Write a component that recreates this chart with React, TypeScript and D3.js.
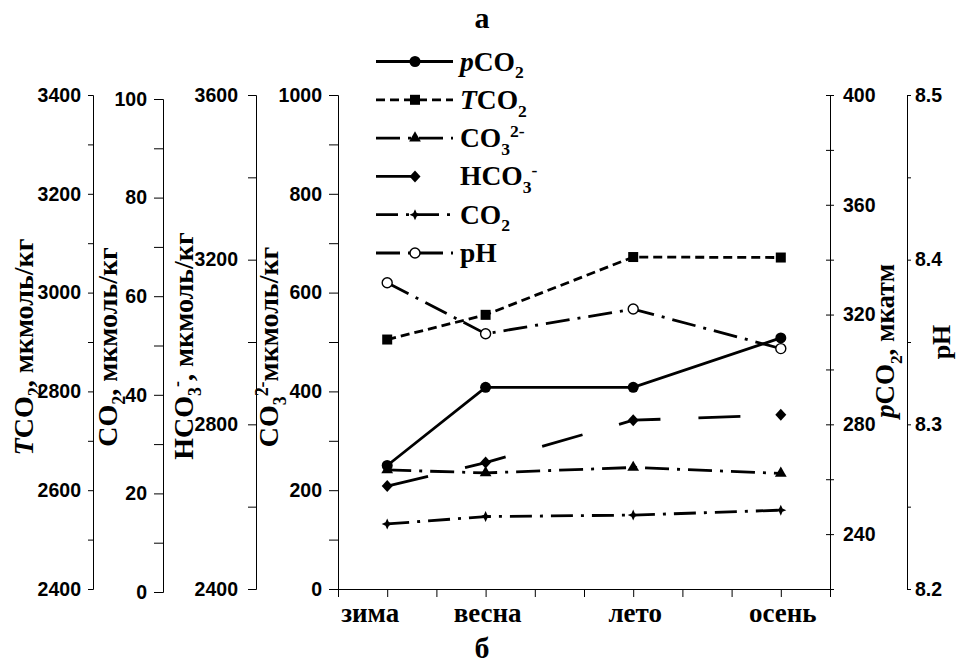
import { useEffect, useRef } from 'react'
import * as d3 from 'd3'

// seasons and their position on the (hidden) numeric x scale
const seasons = ['зима', 'весна', 'лето', 'осень']
const seasonPos = [1, 3, 6, 9]

// series values
const pCO2 = [265, 293.5, 293.5, 311.5]
const tCO2 = [2905, 2955, 3072, 3071]
const co3 = [241, 235, 246, 234]
const hco3 = [2650, 2707, 2810, 2823]
const co2 = [13.8, 15.3, 15.6, 16.6]
const pH = [8.386, 8.355, 8.37, 8.346]

// labelled ticks of every axis
const tco2Labels = [2400, 2600, 2800, 3000, 3200, 3400]
const co2Labels = [0, 20, 40, 60, 80, 100]
const hco3Labels = [2400, 2800, 3200, 3600]
const co3Labels = [0, 200, 400, 600, 800, 1000]
const pco2Labels = [240, 280, 320, 360, 400]
const phLabels = [8.2, 8.3, 8.4, 8.5]

const W = 961
const H = 666
const SERIF = "'Liberation Serif', 'Times New Roman', serif"
const SANS = "'Liberation Sans', Arial, sans-serif"

type Part = { t: string; it?: boolean; sub?: boolean; sup?: boolean }

// appends tspans for chemical formulas (italic, sub and superscripts)
function rich(text: any, parts: Part[], size: number) {
  let shift = 0
  for (const p of parts) {
    const small = p.sub || p.sup
    const target = p.sub ? size * 0.28 : p.sup ? -size * 0.36 : 0
    text
      .append('tspan')
      .attr('dy', target - shift)
      .attr('font-size', small ? size * 0.64 : size)
      .attr('font-style', p.it ? 'italic' : 'normal')
      .text(p.t)
    shift = target
  }
}

function ChemChart() {
  const svgRef = useRef<SVGSVGElement>(null)

  useEffect(() => {
    if (!svgRef.current) return
    const svg = d3.select(svgRef.current)
    svg.selectAll('*').remove()

    const x = d3.scaleLinear().domain([0, 10]).range([338, 830])
    const yT = d3.scaleLinear().domain([2400, 3400]).range([589, 95])
    const yCO2 = d3.scaleLinear().domain([0, 100]).range([592, 99])
    const yHCO3 = d3.scaleLinear().domain([2400, 3600]).range([589, 95])
    const yCO3 = d3.scaleLinear().domain([0, 1000]).range([589, 95])
    const yP = d3.scaleLinear().domain([220, 400]).range([589, 95])
    const yPH = d3.scaleLinear().domain([8.2, 8.5]).range([589, 95])

    const axes = [
      { scale: yT, at: 93, side: 'left', step: 100, labels: tco2Labels, size: 5, pad: 7, fmt: d3.format('d') },
      { scale: yCO2, at: 163, side: 'left', step: 10, labels: co2Labels, size: 9, pad: 7, fmt: d3.format('d') },
      { scale: yHCO3, at: 256, side: 'left', step: 200, labels: hco3Labels, size: 8, pad: 10, fmt: d3.format('d') },
      { scale: yCO3, at: 338, side: 'left', step: 100, labels: co3Labels, size: 9, pad: 7, fmt: d3.format('d') },
      { scale: yP, at: 830, side: 'right', step: 20, labels: pco2Labels, size: 4, pad: 9, fmt: d3.format('d') },
      { scale: yPH, at: 907, side: 'right', step: 0.05, labels: phLabels, size: 4, pad: 4, fmt: d3.format('.1f') },
    ]

    axes.forEach((a) => {
      const [d0, d1] = a.scale.domain()
      const vals = d3.range(d0, d1 + a.step / 2, a.step)
      const gen = (a.side === 'left' ? d3.axisLeft(a.scale) : d3.axisRight(a.scale))
        .tickValues(vals)
        .tickSizeOuter(0)
        .tickSize(a.size)
        .tickPadding(a.pad)
        .tickFormat((v: any) => (a.labels.some((l) => Math.abs(l - v) < 1e-6) ? a.fmt(v) : ''))
      const g = svg.append('g').attr('transform', `translate(${a.at},0)`).call(gen as any)
      g.select('.domain').attr('stroke', '#000')
      g.selectAll('.tick line').attr('stroke', '#000')
      g.selectAll('text')
        .attr('font-family', SANS)
        .attr('font-size', 19.5)
        .attr('font-weight', 'bold')
        .attr('fill', '#000')
      if (a.scale === yP) g.selectAll('.tick line').attr('x1', -4).attr('x2', 4)
    })

    // x axis
    const xg = svg
      .append('g')
      .attr('transform', `translate(0,589)`)
      .call(d3.axisBottom(x).tickValues(d3.range(0, 11)).tickSize(8).tickSizeOuter(0).tickFormat(() => '') as any)
    xg.select('.domain').attr('stroke', '#000')
    xg.selectAll('.tick line').attr('stroke', '#000')

    svg
      .append('g')
      .selectAll('text')
      .data(seasons)
      .enter()
      .append('text')
      .attr('x', (d, i) => x(seasonPos[i]) + (i === 0 ? -17 : 2))
      .attr('y', 622)
      .attr('text-anchor', 'middle')
      .attr('font-family', SERIF)
      .attr('font-weight', 'bold')
      .attr('font-size', 27)
      .text((d) => d)

    const series = [
      { key: 'pco2', values: pCO2, scale: yP, dash: null, marker: 'circle',
        label: [{ t: 'p', it: true }, { t: 'CO' }, { t: '2', sub: true }] },
      { key: 'tco2', values: tCO2, scale: yT, dash: '9 5', marker: 'square',
        label: [{ t: 'T', it: true }, { t: 'CO' }, { t: '2', sub: true }] },
      { key: 'co3', values: co3, scale: yCO3, dash: '24 8 3 8', marker: 'triangle',
        label: [{ t: 'CO' }, { t: '3', sub: true }, { t: '2-', sup: true }] },
      { key: 'hco3', values: hco3, scale: yHCO3, dash: '42 38', marker: 'diamond',
        label: [{ t: 'HCO' }, { t: '3', sub: true }, { t: '-', sup: true }] },
      { key: 'co2', values: co2, scale: yCO2, dash: '22 8 3 8', marker: 'star',
        label: [{ t: 'CO' }, { t: '2', sub: true }] },
      { key: 'ph', values: pH, scale: yPH, dash: '24 8 3 8', marker: 'open',
        label: [{ t: 'pH' }] },
    ]

    const star = 'M0,-5.5L1.7,-1.7L5.5,0L1.7,1.7L0,5.5L-1.7,1.7L-5.5,0L-1.7,-1.7Z'
    const diamond = 'M0,-6L5.5,0L0,6L-5.5,0Z'
    const drawMarker = (g: any, type: string, cx: number, cy: number) => {
      if (type === 'circle') g.append('circle').attr('cx', cx).attr('cy', cy).attr('r', 5.5).attr('fill', '#000')
      else if (type === 'open')
        g.append('circle').attr('cx', cx).attr('cy', cy).attr('r', 5).attr('fill', '#fff').attr('stroke', '#000').attr('stroke-width', 1.4)
      else if (type === 'square') g.append('rect').attr('x', cx - 5).attr('y', cy - 5).attr('width', 10).attr('height', 10).attr('fill', '#000')
      else if (type === 'triangle')
        g.append('path').attr('d', d3.symbol(d3.symbolTriangle, 60)()).attr('transform', `translate(${cx},${cy})`).attr('fill', '#000')
      else if (type === 'diamond')
        g.append('path').attr('d', diamond).attr('transform', `translate(${cx},${cy})`).attr('fill', '#000')
      else g.append('path').attr('d', star).attr('transform', `translate(${cx},${cy})`).attr('fill', '#000')
    }

    const plot = svg.append('g')
    series.forEach((s) => {
      const line = d3
        .line<number>()
        .x((d, i) => x(seasonPos[i]))
        .y((d) => s.scale(d))
      plot
        .append('path')
        .datum(s.values)
        .attr('d', line)
        .attr('fill', 'none')
        .attr('stroke', '#000')
        .attr('stroke-width', 2.8)
        .attr('stroke-dasharray', s.dash)
      s.values.forEach((v, i) => drawMarker(plot, s.marker, x(seasonPos[i]), s.scale(v)))
    })

    // legend
    const legend = svg.append('g')
    series.forEach((s, i) => {
      const ly = 61.5 + i * 38.3
      legend
        .append('line')
        .attr('x1', 376)
        .attr('x2', 453)
        .attr('y1', ly)
        .attr('y2', ly)
        .attr('stroke', '#000')
        .attr('stroke-width', 2.8)
        .attr('stroke-dasharray', s.dash)
      drawMarker(legend, s.marker, 415, ly)
      const t = legend
        .append('text')
        .attr('x', 460)
        .attr('y', ly + 9)
        .attr('font-family', SERIF)
        .attr('font-weight', 'bold')
        .attr('font-size', 27.5)
      rich(t, s.label as Part[], 27.5)
    })

    // rotated axis titles
    const titles: { at: number; cy: number; size: number; parts: Part[] }[] = [
      { at: 33, cy: 347, size: 28, parts: [{ t: 'T', it: true }, { t: 'CO' }, { t: '2', sub: true }, { t: ', мкмоль/кг' }] },
      { at: 117, cy: 347, size: 28, parts: [{ t: 'CO' }, { t: '2', sub: true }, { t: ', мкмоль/кг' }] },
      { at: 193, cy: 346, size: 28, parts: [{ t: 'HCO' }, { t: '3', sub: true }, { t: '-', sup: true }, { t: ', мкмоль/кг' }] },
      { at: 278, cy: 347, size: 28, parts: [{ t: 'CO' }, { t: '3', sub: true }, { t: '2-', sup: true }, { t: 'мкмоль/кг' }] },
      { at: 894, cy: 341, size: 27, parts: [{ t: 'p', it: true }, { t: 'CO' }, { t: '2', sub: true }, { t: ', мкатм' }] },
      { at: 950, cy: 342, size: 26, parts: [{ t: 'pH' }] },
    ]
    titles.forEach((tt) => {
      const t = svg
        .append('text')
        .attr('transform', `translate(${tt.at},${tt.cy}) rotate(-90)`)
        .attr('text-anchor', 'middle')
        .attr('font-family', SERIF)
        .attr('font-weight', 'bold')
        .attr('font-size', tt.size)
      rich(t, tt.parts, tt.size)
    })

    // panel letters
    ;[
      { t: 'а', y: 28 },
      { t: 'б', y: 658 },
    ].forEach((p) =>
      svg
        .append('text')
        .attr('x', 482)
        .attr('y', p.y)
        .attr('text-anchor', 'middle')
        .attr('font-family', SERIF)
        .attr('font-weight', 'bold')
        .attr('font-size', 30)
        .text(p.t),
    )
  }, [])

  return (
    <svg
      ref={svgRef}
      width={W}
      height={H}
      style={{ position: 'absolute', left: 0, top: 0, background: '#fff' }}
    />
  )
}

export default function App() {
  return <ChemChart />
}
